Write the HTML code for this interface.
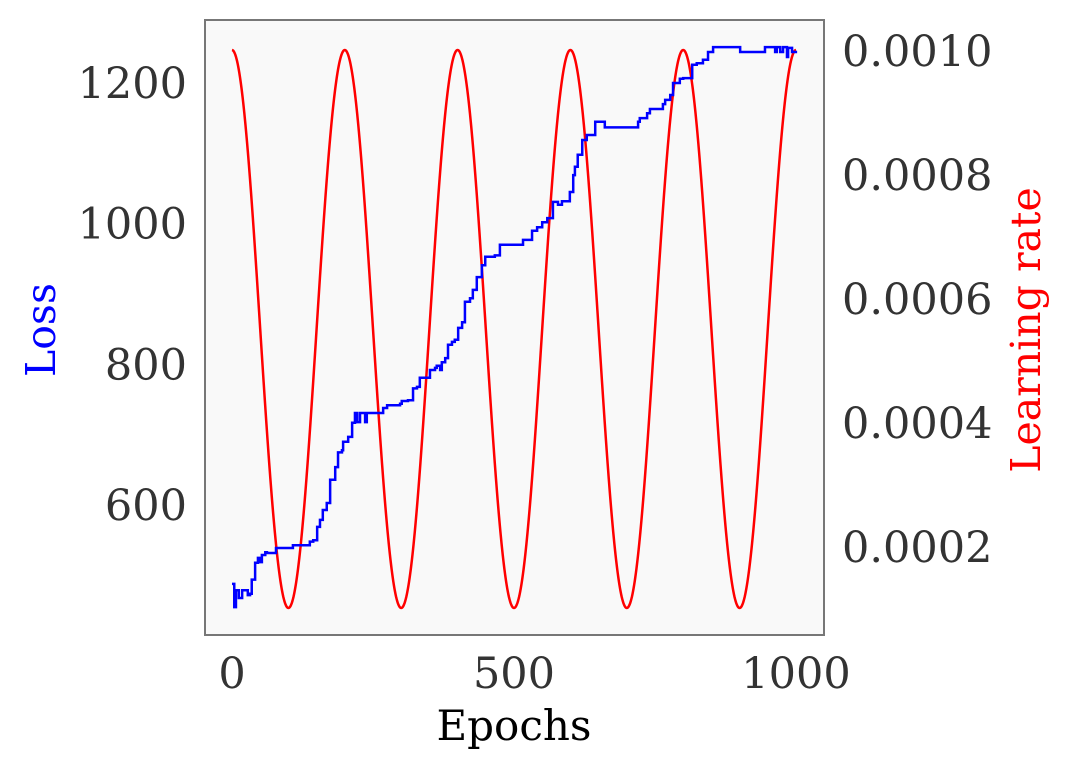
<!DOCTYPE html>
<html><head><meta charset="utf-8"><style>
html,body{margin:0;padding:0;background:#fff;}
svg{display:block;font-family:"DejaVu Serif","Liberation Serif",serif;}
</style></head><body>
<svg id="chart" width="1071" height="770" viewBox="0 0 1071 770" xmlns="http://www.w3.org/2000/svg">
<rect x="205" y="20" width="619" height="615" fill="#f9f9f9"/>
<g id="series"></g>
<rect x="205" y="20" width="619" height="615" fill="none" stroke="#777" stroke-width="2"/>
<g id="axes" fill="#333" font-size="43"></g>
<text x="514" y="740" text-anchor="middle" font-size="42" fill="#000">Epochs</text>
<text transform="translate(55,330) rotate(-90)" text-anchor="middle" font-size="41" fill="#0000ff">Loss</text>
<text transform="translate(1040,330) rotate(-90)" text-anchor="middle" font-size="41" fill="#ff0000">Learning rate</text>
</svg>
<script>
const xTicks = [0, 500, 1000];
const lossTicks = [600, 800, 1000, 1200];
const lrTicks = [0.0002, 0.0004, 0.0006, 0.0008, 0.0010];
const lrMax = 0.001;
const lrMin = 0.0001;
const lrPeriod = 200;
const lossEpochs = [0,4,7,12,18,28,32,35,41,46,50,53,59,62,73,78,103,108,133,138,144,151,156,161,168,174,183,188,195,197,206,213,218,222,227,236,239,262,268,275,298,301,312,321,328,333,342,351,360,363,369,372,378,383,390,395,401,408,413,422,427,434,443,449,466,475,511,516,520,532,541,550,559,569,578,585,587,599,605,608,613,621,629,635,644,647,661,665,720,723,736,741,754,764,768,777,782,794,800,816,824,835,844,853,865,901,904,945,949,963,966,972,977,984,986,993,1002];
const lossValues = [488,455,479,468,479,472,474,494,518,525,519,529,533,532,532,539,539,543,543,548,550,569,579,593,603,636,654,675,678,690,697,717,731,718,731,718,731,731,738,742,744,748,749,766,768,781,781,792,795,798,792,803,809,828,832,835,852,860,889,894,906,924,941,953,955,970,970,977,977,990,995,1002,1008,1031,1027,1032,1032,1045,1069,1081,1098,1119,1126,1126,1145,1145,1137,1137,1145,1150,1157,1163,1163,1170,1176,1183,1200,1206,1207,1226,1228,1233,1244,1251,1251,1244,1244,1251,1251,1244,1251,1244,1251,1237,1250,1244];

const NS = "http://www.w3.org/2000/svg";
const xS = e => 232 + e * 0.564;
const lossS = v => 83 + (1200 - v) * 0.7035;
const lrS = v => 50 + (lrMax - v) / 0.0002 * 124;
const series = document.getElementById('series');
const axes = document.getElementById('axes');

let lrPts = [];
for (let e = 0; e <= 1000; e += 1) {
  const v = lrMin + (lrMax - lrMin) * 0.5 * (1 + Math.cos(2 * Math.PI * e / lrPeriod));
  lrPts.push(xS(e).toFixed(2) + ',' + lrS(v).toFixed(2));
}
const lr = document.createElementNS(NS, 'polyline');
lr.setAttribute('points', lrPts.join(' '));
lr.setAttribute('fill', 'none');
lr.setAttribute('stroke', '#ff0000');
lr.setAttribute('stroke-width', '2.5');


series.appendChild(lr);

let lossPts = [];
lossEpochs.forEach((e, i) => {
  const x = xS(e).toFixed(2), y = lossS(lossValues[i]).toFixed(2);
  if (i > 0) lossPts.push(x + ',' + lossS(lossValues[i - 1]).toFixed(2));
  lossPts.push(x + ',' + y);
});
const loss = document.createElementNS(NS, 'polyline');
loss.setAttribute('points', lossPts.join(' '));
loss.setAttribute('fill', 'none');
loss.setAttribute('stroke', '#0000ff');
loss.setAttribute('stroke-width', '2.5');


series.appendChild(loss);

function label(x, y, txt, anchor) {
  const t = document.createElementNS(NS, 'text');
  t.setAttribute('x', x); t.setAttribute('y', y);
  t.setAttribute('text-anchor', anchor);
  t.textContent = txt;
  return t;
}
xTicks.forEach(v => {
  const t = label(xS(v), 688, String(v), 'middle');
  
  
  axes.appendChild(t);
});
lossTicks.forEach(v => {
  const t = label(187, lossS(v) + 15, String(v), 'end');
  
  
  axes.appendChild(t);
});
lrTicks.forEach(v => {
  const t = label(842, lrS(v) + 16, v.toFixed(4), 'start');
  
  
  axes.appendChild(t);
});
</script>
</body></html>
